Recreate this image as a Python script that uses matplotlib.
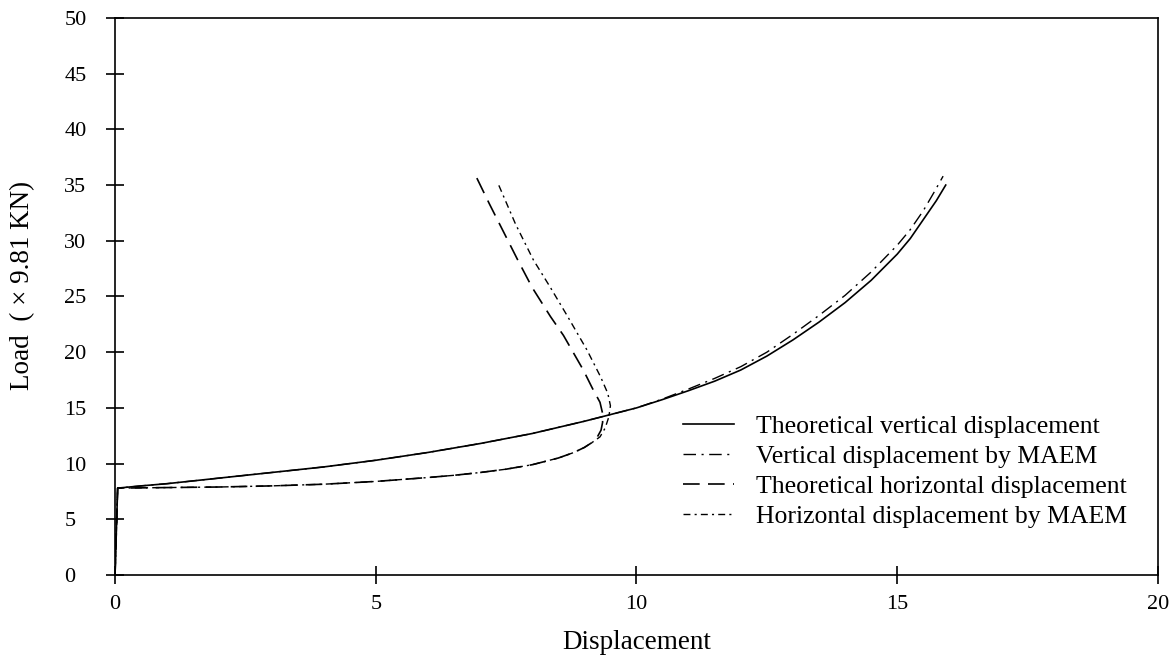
import matplotlib
matplotlib.use("Agg")
import matplotlib.pyplot as plt

# donnees lues sur la figure
# deplacement vertical theorique
xv_th = [0, 0.05, 0.5, 1, 1.5, 2, 2.5, 3, 3.5, 4, 4.5, 5, 5.5, 6, 6.5, 7, 7.5, 8, 8.5, 9, 9.5, 10,
         10.5, 11, 11.5, 12, 12.5, 13, 13.5, 14, 14.5, 15, 15.25, 15.5, 15.75, 15.93]
yv_th = [0, 7.8, 8.0, 8.2, 8.45, 8.7, 8.95, 9.2, 9.45, 9.7, 10.0, 10.3, 10.65, 11.0, 11.4, 11.8, 12.25, 12.7, 13.25, 13.8, 14.4, 15.0,
         15.75, 16.55, 17.4, 18.4, 19.65, 21.1, 22.7, 24.45, 26.45, 28.8, 30.2, 31.9, 33.6, 35.0]

# deplacement vertical MAEM
xv_m = [0, 0.05, 0.5, 1, 1.5, 2, 2.5, 3, 3.5, 4, 4.5, 5, 5.5, 6, 6.5, 7, 7.5, 8, 8.5, 9, 9.5, 10,
        10.5, 11, 11.5, 12, 12.5, 13, 13.5, 14, 14.5, 15, 15.25, 15.5, 15.7, 15.88]
yv_m = [0, 7.8, 8.0, 8.2, 8.45, 8.7, 8.95, 9.2, 9.45, 9.7, 10.0, 10.3, 10.65, 11.0, 11.4, 11.8, 12.25, 12.7, 13.25, 13.8, 14.4, 15.0,
        15.8, 16.7, 17.65, 18.7, 20.0, 21.6, 23.3, 25.1, 27.2, 29.6, 31.0, 32.7, 34.3, 35.8]

# deplacement horizontal theorique
xh_th = [0, 0.05, 1, 2, 3, 4, 5, 6, 6.5, 7, 7.5, 8, 8.5, 8.8, 9.0, 9.15, 9.25, 9.32, 9.35, 9.35,
         9.3, 9.15, 8.98, 8.6, 8.35, 8.0, 7.72, 7.45, 7.18, 6.91]
yh_th = [0, 7.8, 7.85, 7.9, 8.0, 8.15, 8.4, 8.75, 8.95, 9.2, 9.5, 9.9, 10.5, 11.0, 11.45, 11.9, 12.4, 13.0, 13.7, 14.5,
         15.5, 16.8, 18.4, 21.5, 23.2, 25.8, 28.3, 30.8, 33.3, 35.9]

# deplacement horizontal MAEM
xh_m = [0, 0.05, 1, 2, 3, 4, 5, 6, 6.5, 7, 7.5, 8, 8.5, 8.8, 9.0, 9.15, 9.3, 9.4, 9.47, 9.5,
        9.45, 9.31, 9.05, 8.68, 8.35, 8.02, 7.68, 7.33]
yh_m = [0, 7.8, 7.85, 7.9, 8.0, 8.15, 8.4, 8.75, 8.95, 9.2, 9.5, 9.9, 10.5, 11.0, 11.45, 11.9, 12.4, 13.2, 14.2, 15.2,
        16.3, 17.8, 20.2, 23.2, 25.8, 28.3, 31.5, 35.3]

plt.rcParams['font.family'] = ['Liberation Serif', 'DejaVu Serif']

fig = plt.figure(figsize=(11.75, 6.64), dpi=100)
ax = fig.add_axes([0.0979, 0.134, 0.8876, 0.839])

ax.plot(xv_th, yv_th, color="black", lw=1.2, label="Theoretical vertical displacement")
ax.plot(xv_m, yv_m, color="black", lw=1.0, dashes=(9, 4, 1.5, 4), label="Vertical displacement by MAEM")
ax.plot(xh_th, yh_th, color="black", lw=1.2, dashes=(10, 5), label="Theoretical horizontal displacement")
ax.plot(xh_m, yh_m, color="black", lw=1.0, dashes=(5, 3, 1.5, 3), label="Horizontal displacement by MAEM")

ax.set_xlim(0, 20)
ax.set_ylim(0, 50)
ax.set_xticks([0, 5, 10, 15, 20])
ax.set_yticks(range(0, 51, 5))
ax.tick_params(direction="inout", length=13, width=1.2, labelsize=16)
ax.tick_params(axis="x", pad=8)
ax.tick_params(axis="y", pad=30)
for lab in ax.get_yticklabels():
    lab.set_horizontalalignment("left")
for s in ax.spines.values():
    s.set_linewidth(1.2)

ax.set_xlabel("Displacement", fontsize=19.5, labelpad=11.5)
ax.set_ylabel("Load  ( \u00d7 9.81 KN)", fontsize=19.5, labelpad=21, y=0.52)

ax.legend(loc="upper left", bbox_to_anchor=(0.5446, 0.288), frameon=False, fontsize=18.5,
          handlelength=2.0, handletextpad=0.85, labelspacing=0.28, borderpad=0, borderaxespad=0)

fig.savefig("out.png", dpi=100)
